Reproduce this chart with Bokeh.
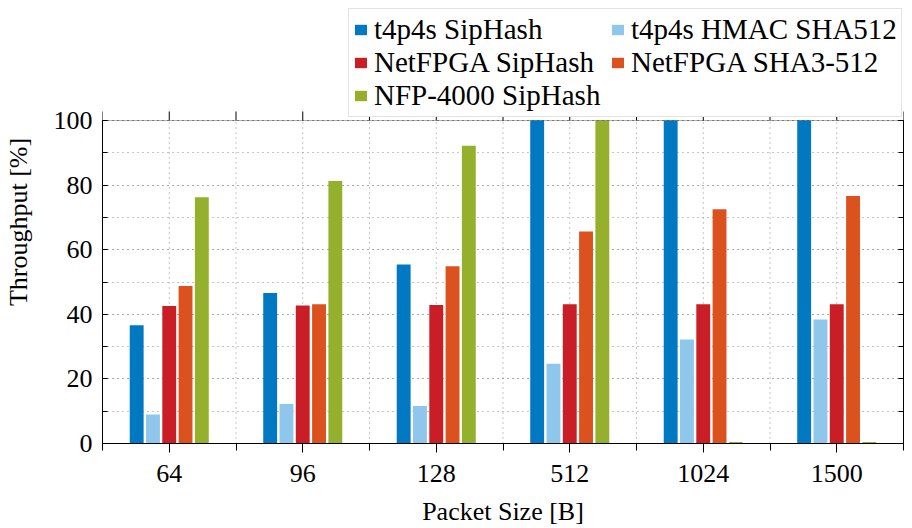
from bokeh.plotting import figure
from bokeh.models import (FixedTicker, LinearAxis, Legend, LegendItem,
                          Range1d, ColumnDataSource, BoxAnnotation)
from bokeh.embed import file_html
from bokeh.resources import INLINE

# ---- data ----
packet_sizes = ["64", "96", "128", "512", "1024", "1500"]
series_names = ["t4p4s SipHash", "t4p4s HMAC SHA512", "NetFPGA SipHash",
                "NetFPGA SHA3-512", "NFP-4000 SipHash"]
t4p4s_siphash = [36.6, 46.6, 55.4, 100.0, 100.0, 100.0]
t4p4s_hmac_sha512 = [9.0, 12.2, 11.6, 24.7, 32.2, 38.4]
netfpga_siphash = [42.6, 42.7, 42.9, 43.1, 43.1, 43.1]
netfpga_sha3_512 = [48.8, 43.1, 54.9, 65.6, 72.5, 76.6]
nfp4000_siphash = [76.2, 81.3, 92.2, 100.0, 0.5, 0.5]
y_ticks = [0, 20, 40, 60, 80, 100]
y_min, y_max = 0, 100

series_values = [t4p4s_siphash, t4p4s_hmac_sha512, netfpga_siphash,
                 netfpga_sha3_512, nfp4000_siphash]
colors = ["#0079C2", "#8FC6EC", "#C91E25", "#DC521F", "#95B02C"]

FONT = "Liberation Serif"
FS = "26px"

W, H = 904, 528
B_LEFT, B_RIGHT, B_TOP, B_BOTTOM = 95, 1, 0, 85
BOX_H = 323                      # pixel height of the value axis box
frame_h = H - B_TOP - B_BOTTOM   # frame also hosts the legend above the box
y_top = y_max * frame_h / BOX_H

x_lo, x_hi = -0.5, len(packet_sizes) - 0.5
p = figure(width=W, height=H, output_backend="svg", toolbar_location=None,
           x_range=Range1d(x_lo, x_hi), y_range=Range1d(y_min, y_top),
           min_border_left=B_LEFT, min_border_right=B_RIGHT,
           min_border_top=B_TOP, min_border_bottom=B_BOTTOM)
p.background_fill_color = "white"
p.border_fill_color = "white"
p.outline_line_color = None

xs = list(range(len(packet_sizes)))

# dotted vertical grid limited to the value box
grid_x = sorted(set([x - 0.5 for x in xs] + xs))[1:]
p.segment(x0=grid_x, x1=grid_x, y0=[y_min] * len(grid_x), y1=[y_max] * len(grid_x),
          line_color="#8c8c8c", line_dash="1 4", line_width=1)

step = 0.122
bw = 0.104
renderers = []
for k, (vals, col) in enumerate(zip(series_values, colors)):
    off = (k - 2) * step
    src = ColumnDataSource(dict(x=[x + off for x in xs], top=vals))
    r = p.vbar(x="x", top="top", width=bw, bottom=0, source=src,
               fill_color=col, line_color=None)
    renderers.append(r)

# box border of the value area
p.add_layout(BoxAnnotation(left=x_lo, right=x_hi, bottom=y_min, top=y_max,
                           fill_alpha=0, fill_color=None,
                           line_color="black", line_width=1))

# top tick marks (outward) on the box
tick_len = 9 * y_max / BOX_H
all_xt = [x - 0.5 for x in xs] + xs + [xs[-1] + 0.5]
p.segment(x0=all_xt, x1=all_xt, y0=[y_max] * len(all_xt),
          y1=[y_max + tick_len] * len(all_xt), line_color="black", line_width=1)

# x axis
xt = FixedTicker(ticks=xs, minor_ticks=[x - 0.5 for x in xs] + [xs[-1] + 0.5])
p.xaxis.ticker = xt
p.xaxis.major_label_overrides = {i: s for i, s in enumerate(packet_sizes)}
p.xaxis.axis_label = "Packet Size [B]"
yt = FixedTicker(ticks=y_ticks, minor_ticks=list(range(y_min, y_max + 1, 10)))
p.yaxis.ticker = yt
p.yaxis.axis_label = "Throughput [%]"
p.yaxis.bounds = (y_min, y_max)

for ax in p.xaxis + p.yaxis:
    ax.major_label_text_font = FONT
    ax.major_label_text_font_size = FS
    ax.major_label_text_color = "black"
    ax.axis_label_text_font = FONT
    ax.axis_label_text_font_size = FS
    ax.axis_label_text_font_style = "normal"
    ax.axis_label_text_color = "black"
    ax.axis_line_color = "black"
    ax.major_tick_line_color = "black"
    ax.minor_tick_line_color = "black"

p.xaxis.major_tick_in = 0
p.xaxis.major_tick_out = 9
p.xaxis.minor_tick_in = 0
p.xaxis.minor_tick_out = 7
p.xaxis.major_label_standoff = 12
p.xaxis.axis_label_standoff = 12

p.yaxis.major_tick_in = 5
p.yaxis.major_tick_out = 0
p.yaxis.minor_tick_in = 5
p.yaxis.minor_tick_out = 0
p.yaxis.major_label_standoff = 10
p.yaxis.axis_label_standoff = 18

right_ax = LinearAxis(ticker=yt, bounds=(y_min, y_max),
                      major_label_text_font_size="0px", major_label_standoff=0,
                      major_tick_in=5, major_tick_out=0, minor_tick_in=5, minor_tick_out=0,
                      axis_line_color="black", major_label_text_color=None)
p.add_layout(right_ax, "right")

# horizontal dotted grid
p.xgrid.visible = False
p.ygrid.ticker = yt
p.ygrid.grid_line_color = "#8c8c8c"
p.ygrid.grid_line_dash = "1 4"
p.ygrid.minor_grid_line_color = "#8c8c8c"
p.ygrid.minor_grid_line_dash = "1 4"

items = [LegendItem(label=n, renderers=[r]) for n, r in zip(series_names, renderers)]
order = [0, 2, 4, 1, 3]  # legend fills column-wise; gives row-wise reading order
legend = Legend(items=[items[i] for i in order], ncols=2, location=(246, 326),
                label_text_font=FONT, label_text_font_size="29px",
                label_text_font_style="normal",
                label_text_color="black", label_width=236,
                glyph_width=15, glyph_height=13, label_standoff=6,
                padding=4, spacing=0, margin=0,
                border_line_color="#c8c8c8", border_line_width=1,
                background_fill_color="white", background_fill_alpha=1.0)
p.add_layout(legend, "center")

open("out.html", "w").write(file_html(p, INLINE))
